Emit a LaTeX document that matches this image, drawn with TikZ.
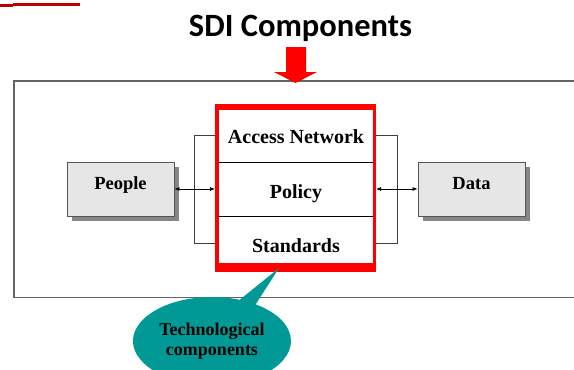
\documentclass[tikz,border=0pt]{standalone}
\usepackage{fontspec}
\setmainfont{Liberation Serif}
\newfontfamily\titlefont{Carlito}
\usetikzlibrary{shapes.geometric,shapes.callouts,shadows,arrows.meta}
\definecolor{sdired}{RGB}{255,0,0}
\definecolor{darkred}{RGB}{192,0,0}
\definecolor{calloutteal}{RGB}{0,153,150}
\definecolor{boxfill}{RGB}{230,230,230}
\definecolor{boxline}{RGB}{85,85,85}
\definecolor{framegray}{RGB}{100,100,100}
\begin{document}
\begin{tikzpicture}[x=1pt,y=-1pt,
  frame/.style={draw=framegray,line width=1.3pt},
  coreframe/.style={draw=sdired,line width=3.5pt,fill=white,inner sep=0pt},
  divider/.style={draw=black,line width=0.8pt,shorten <=3.5pt,shorten >=3.5pt},
  celltext/.style={anchor=base,inner sep=0pt,font=\fontsize{20}{24}\selectfont\bfseries},
  sidebox/.style={draw=boxline,line width=0.8pt,fill=boxfill,minimum width=107pt,minimum height=54pt,
    text height=6.5pt,text depth=6.5pt,inner sep=0pt,
    font=\fontsize{18.5}{22}\selectfont\bfseries,
    drop shadow={shadow xshift=4.5pt,shadow yshift=-4.5pt,fill=gray!95,opacity=1}},
  bracket/.style={draw=black!75,line width=0.8pt},
  link/.style={draw=black,line width=0.7pt,{Latex[length=5pt,width=4pt]}-{Latex[length=5pt,width=4pt]}},
  titletext/.style={anchor=base,inner sep=0pt,font=\titlefont\fontsize{32.5}{36}\selectfont\bfseries},
  techcallout/.style={ellipse callout,fill=calloutteal,minimum width=158pt,minimum height=88pt,
    inner sep=0pt,align=center,callout pointer arc=13,
    font=\fontsize{18}{20}\selectfont\bfseries}
]
\useasboundingbox (0,0) rectangle (574,370);
\clip (0,0) rectangle (574,370);
% top-left red rule
\fill[darkred] (0,4) rectangle (13,7);
\draw[darkred,line width=2.6pt] (13,4.4) -- (80,4.4);
% title
\node[titletext] (title) at (300.5,36) {SDI Components};
% outer frame
\draw[frame] (14,81) rectangle (600,297.5);
% red block arrow
\fill[sdired] (286,47) -- (306,47) -- (306,72) -- (317,72) -- (295.5,83) -- (274,72) -- (286,72) -- cycle;
% side boxes
\node[sidebox] (people) at (120.5,189) {People};
\node[sidebox] (data) at (471.5,189) {Data};
% core box
\node[coreframe,minimum width=157.5pt,minimum height=164.5pt] (core) at (295.5,188) {};
\fill[sdired] (core.north west) rectangle ([yshift=-6pt]core.north east);
\fill[sdired] (core.south west) rectangle ([yshift=9pt]core.south east);
\draw[divider] (core.west |- 0,162) -- (core.east |- 0,162);
\draw[divider] (core.west |- 0,216) -- (core.east |- 0,216);
\node[celltext] (access) at (296,143) {Access Network};
\node[celltext] (policy) at (296,198) {Policy};
\node[celltext] (standards) at (296,252) {Standards};
% brackets
\draw[bracket] (core.west |- 0,135) -- ++(-20.5,0) |- (core.west |- 0,243);
\draw[bracket] (core.east |- 0,135) -- ++(21,0) |- (core.east |- 0,243);
% arrows
\draw[link] (people.east) -- (people.east -| core.west);
\draw[link] (core.east |- data.west) -- (data.west);
% callout
\coordinate (tip) at (279,268);
\node[techcallout,callout absolute pointer={(tip)}] (tech) at (212,341) {Technological\\components};
\end{tikzpicture}
\end{document}
